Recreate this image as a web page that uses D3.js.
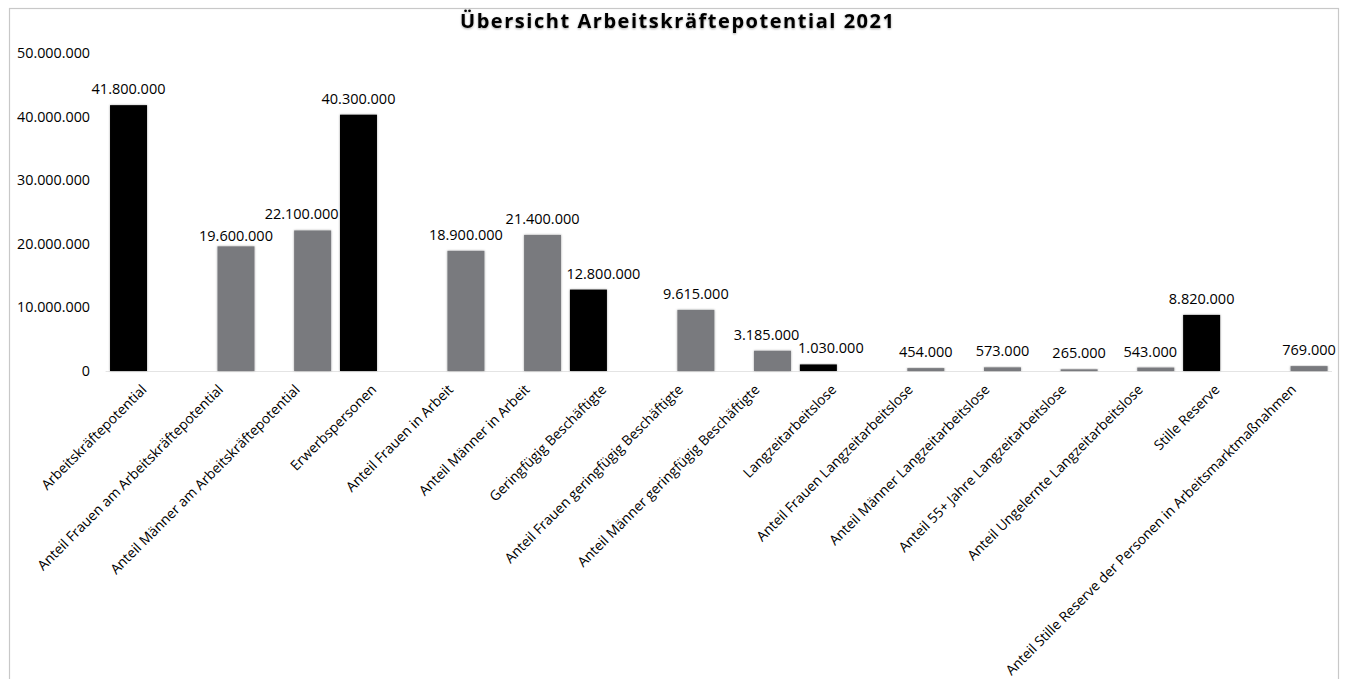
<!DOCTYPE html>
<html><head><meta charset="utf-8">
<script src="https://cdn.jsdelivr.net/npm/d3@7"></script>
<style>
html,body{margin:0;padding:0;background:#fff;}
svg{display:block;}
text{font-family:"Open Sans",sans-serif;fill:#000;}
</style></head>
<body>
<svg id="chart" width="1345" height="679"></svg>
<script>
const title = "Übersicht Arbeitskräftepotential 2021";
const categories = [
  "Arbeitskräftepotential",
  "Anteil Frauen am Arbeitskräftepotential",
  "Anteil Männer am Arbeitskräftepotential",
  "Erwerbspersonen",
  "Anteil Frauen in Arbeit",
  "Anteil Männer in Arbeit",
  "Geringfügig Beschäftigte",
  "Anteil Frauen geringfügig Beschäftigte",
  "Anteil Männer geringfügig Beschäftigte",
  "Langzeitarbeitslose",
  "Anteil Frauen Langzeitarbeitslose",
  "Anteil Männer Langzeitarbeitslose",
  "Anteil 55+ Jahre Langzeitarbeitslose",
  "Anteil Ungelernte Langzeitarbeitslose",
  "Stille Reserve",
  "Anteil Stille Reserve der Personen in Arbeitsmarktmaßnahmen"
];
// series "Gesamt" (black) and "Anteil" (gray); null = no bar
const totals = [41800000, null, null, 40300000, null, null, 12800000, null, null, 1030000, null, null, null, null, 8820000, null];
const shares = [null, 19600000, 22100000, null, 18900000, 21400000, null, 9615000, 3185000, null, 454000, 573000, 265000, 543000, null, 769000];
const yTicks = [0, 10000000, 20000000, 30000000, 40000000, 50000000];

// layout (manual label nudges, as in the original)
const labelNudge = {
  "Anteil Männer am Arbeitskräftepotential": [-11, 0],
  "Anteil Frauen am Arbeitskräftepotential": [0, 6],
  "Geringfügig Beschäftigte": [15, 0],
  "Anteil Männer geringfügig Beschäftigte": [-6, 0],
  "Langzeitarbeitslose": [12.5, 0],
  "Anteil Ungelernte Langzeitarbeitslose": [-5.5, 0]
};

const svg = d3.select("#chart");
const fmt = v => d3.format(",")(v).replace(/,/g, ".");

svg.append("rect").attr("x", 9.5).attr("y", 8.5).attr("width", 1329).attr("height", 700)
  .attr("fill", "#fff").attr("stroke", "#c8c8c8").attr("stroke-width", 1.2);

const x = d3.scaleBand().domain(categories).range([105.6, 1332]).paddingInner(0).paddingOuter(0);
const y = d3.scaleLinear().domain([0, 50000000]).range([371, 53]);
const barW = 37;
const slotOffset = {total: -15.4, share: 15.4};

// title
svg.append("text").attr("x", 677).attr("y", 28).attr("text-anchor", "middle")
  .attr("font-size", 20).attr("font-weight", 700)
  .attr("textLength", 434).attr("lengthAdjust", "spacing")
  .style("filter", "drop-shadow(0px 1px 1px rgba(0,0,0,0.35))")
  .text(title);

// y axis labels
const yAxis = d3.axisLeft(y).tickValues(yTicks).tickFormat(fmt).tickSize(0).tickPadding(0);
const gy = svg.append("g").attr("transform", "translate(90,0)").call(yAxis);
gy.select(".domain").remove();
gy.selectAll("text").attr("font-family", "Open Sans").attr("font-size", 14.3).attr("fill", "#000");

// baseline
svg.append("line").attr("x1", 105.6).attr("x2", 1332).attr("y1", y(0) + 0.5).attr("y2", y(0) + 0.5)
  .attr("stroke", "#e4e4e4").attr("stroke-width", 1);

const series = [
  {key: "total", values: totals, color: "#000000"},
  {key: "share", values: shares, color: "#797a7e"}
];

const defs = svg.append("defs");
const f = defs.append("filter").attr("id", "sh").attr("x", "-20%").attr("y", "-20%").attr("width", "140%").attr("height", "140%");
f.append("feDropShadow").attr("dx", 0).attr("dy", 0).attr("stdDeviation", 1.2).attr("flood-color", "#000").attr("flood-opacity", 0.35);

series.forEach(s => {
  const data = categories.map((c, i) => ({c, v: s.values[i]})).filter(d => d.v != null);
  svg.append("g").selectAll("rect").data(data).join("rect")
    .attr("x", d => x(d.c) + x.bandwidth() / 2 + slotOffset[s.key] - barW / 2)
    .attr("y", d => y(d.v))
    .attr("width", barW)
    .attr("height", d => y(0) - y(d.v))
    .attr("fill", s.color)
    .attr("filter", "url(#sh)");
  svg.append("g").selectAll("text").data(data).join("text")
    .attr("x", d => x(d.c) + x.bandwidth() / 2 + slotOffset[s.key] + (labelNudge[d.c] ? labelNudge[d.c][0] : 0))
    .attr("y", d => y(d.v) - 11 + (labelNudge[d.c] ? labelNudge[d.c][1] : 0))
    .attr("text-anchor", "middle")
    .attr("font-size", 14.5)
    .text(d => fmt(d.v));
});

// category labels
const xAxis = d3.axisBottom(x).tickSize(0).tickPadding(0);
const gx = svg.append("g").attr("transform", `translate(0,${y(0)})`).call(xAxis);
gx.select(".domain").remove();
gx.selectAll(".tick text")
  .attr("font-family", "Open Sans").attr("font-size", 13.9).attr("fill", "#000")
  .attr("text-anchor", "end")
  .attr("transform", "translate(0,16) rotate(-45)")
  .attr("x", 0).attr("y", 0).attr("dy", "0.35em");
</script>
</body></html>
